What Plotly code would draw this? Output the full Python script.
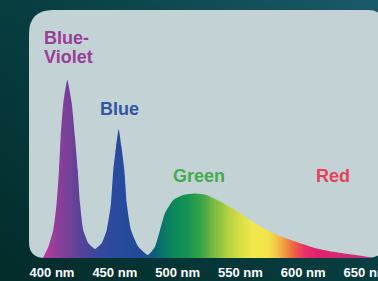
import base64
import plotly.graph_objects as go

# ---- data (relative intensity, violet peak = 100) ----
wavelength_nm = [392.8, 397.1, 401.0, 403.7, 405.6, 406.9, 409.0, 412.2, 415.7, 418.3,
                 420.5, 422.3, 424.9, 428.9, 434.2, 439.6, 443.6, 447.0, 448.8, 451.0,
                 453.1, 455.3, 457.6, 459.5, 462.9, 468.7, 476.4, 482.0, 486.0, 490.0,
                 496.6, 504.5, 513.9, 523.2, 536.1, 549.7, 557.6, 570.9, 584.2, 597.5,
                 610.7, 624.0, 637.3, 653.2, 655.0]
intensity = [0.0, 6.3, 15.7, 30.9, 49.4, 68.1, 86.9, 100.0, 87.1, 68.1,
             49.4, 30.9, 15.7, 8.4, 5.1, 8.4, 15.7, 30.9, 49.4, 62.5,
             72.3, 62.5, 49.4, 30.9, 15.7, 6.3, 1.7, 6.3, 15.7, 25.3,
             32.6, 35.4, 36.3, 35.4, 30.9, 25.3, 21.3, 15.7, 11.6, 8.3,
             5.4, 3.5, 2.1, 0.4, 0.0]

tick_values = [400, 450, 500, 550, 600, 650]
tick_labels = ["400 nm", "450 nm", "500 nm", "550 nm", "600 nm", "650 nm"]

band_labels = ["Blue-", "Violet", "Blue", "Green", "Red"]
band_colors = ["#9a3d97", "#9a3d97", "#2f55a4", "#45ab4f", "#e6405c"]

# spectrum colour stops (wavelength nm, colour)
spectrum_stops = [
    (392.8, "#b83a9e"), (405.0, "#8c3f9a"), (415.0, "#703f97"), (425.0, "#52449b"),
    (435.0, "#3a479d"), (450.0, "#2a4a9e"), (470.0, "#214a96"), (478.0, "#1a5488"),
    (483.0, "#0b6474"), (490.0, "#0a7a64"), (500.0, "#0d8c58"), (508.0, "#169454"),
    (518.0, "#34a248"), (528.0, "#72b942"), (540.0, "#b4d040"), (552.0, "#dde246"),
    (560.0, "#f1e84b"), (572.0, "#f2e448"), (580.0, "#f0c048"), (587.0, "#ee8c42"),
    (594.0, "#ee5a46"), (601.0, "#e8306a"), (612.0, "#e0216f"), (632.0, "#d42a78"),
    (655.0, "#c02e80"),
]

# ---- layout geometry (pixels) ----
W, H = 378, 281
L, R, T, B = 29, 0, 10, 23
PW, PH = W - L - R, H - T - B
NM0, PX_PER_NM = 400.0, 1.256
X_RANGE = [NM0 - (52 - L) / PX_PER_NM, NM0 + (W - R - 52) / PX_PER_NM]
Y_RANGE = [0, PH / 178 * 100]


def px(xp):
    return (xp - L) / PW


def py(yp):
    return (H - B - yp) / PH


g0, g1 = spectrum_stops[0][0], spectrum_stops[-1][0]
colorscale = [[(w - g0) / (g1 - g0), c] for w, c in spectrum_stops]

fig = go.Figure()
fig.add_trace(go.Scatter(
    x=wavelength_nm, y=intensity, mode="lines",
    line=dict(width=0, shape="spline", smoothing=0.5, color="rgba(0,0,0,0)"),
    fill="tozeroy",
    fillgradient=dict(type="horizontal", colorscale=colorscale, start=g0, stop=g1),
    hoverinfo="skip", showlegend=False,
))

# background gradient as an inline SVG image
svg = f"""<svg xmlns='http://www.w3.org/2000/svg' width='{W}' height='{H}' viewBox='0 0 {W} {H}' preserveAspectRatio='none'>
<defs><linearGradient id='g' x1='0' y1='1' x2='1' y2='0'>
<stop offset='0' stop-color='#032b29'/><stop offset='0.55' stop-color='#083f42'/><stop offset='1' stop-color='#1b5a6b'/>
</linearGradient></defs><rect width='{W}' height='{H}' fill='url(#g)'/></svg>"""
src = "data:image/svg+xml;base64," + base64.b64encode(svg.encode()).decode()

# rounded panel
path = (f"M {px(29)},{py(34)} Q {px(29)},{py(10)} {px(53)},{py(10)} "
        f"L {px(368)},{py(10)} Q {px(384)},{py(10)} {px(384)},{py(26)} "
        f"L {px(384)},{py(242)} Q {px(384)},{py(258)} {px(368)},{py(258)} "
        f"L {px(45)},{py(258)} Q {px(29)},{py(258)} {px(29)},{py(242)} Z")

label_pos = [(44.3, 37.9), (44.3, 56.9), (100, 108.6), (172.7, 176.3), (316.3, 176.3)]
annotations = []
for text, col, (xp, yp) in zip(band_labels, band_colors, label_pos):
    annotations.append(dict(
        x=px(xp - 2), y=py(yp), xref="paper", yref="paper", text=text,
        showarrow=False, xanchor="left", yanchor="middle",
        font=dict(family="Liberation Sans, Arial, sans-serif", size=18, color=col, weight="bold"),
    ))

fig.update_layout(
    width=W, height=H, autosize=False,
    margin=dict(l=L, r=R, t=T, b=B, pad=0, autoexpand=False),
    paper_bgcolor="#073a3b", plot_bgcolor="rgba(0,0,0,0)",
    images=[dict(source=src, xref="paper", yref="paper", x=px(0), y=py(0),
                 sizex=W / PW, sizey=H / PH, xanchor="left", yanchor="top",
                 sizing="stretch", layer="below")],
    shapes=[dict(type="path", path=path, xref="paper", yref="paper",
                 fillcolor="#c3d3d5", line=dict(width=0), layer="below")],
    annotations=annotations,
    xaxis=dict(range=X_RANGE, tickvals=tick_values, ticktext=tick_labels,
               showgrid=False, zeroline=False, showline=False, ticks="",
               ticklabeloverflow="allow", automargin=False, ticklabelstandoff=5,
               tickfont=dict(family="Liberation Sans, Arial, sans-serif", size=13,
                             color="#ffffff", weight="bold"),
               fixedrange=True),
    yaxis=dict(range=Y_RANGE, visible=False, showgrid=False, zeroline=False,
               automargin=False, fixedrange=True),
    showlegend=False,
)

fig.write_html("out.html", config={"displayModeBar": False},
               post_script="document.body.style.margin='0';document.body.style.overflow='hidden';")
